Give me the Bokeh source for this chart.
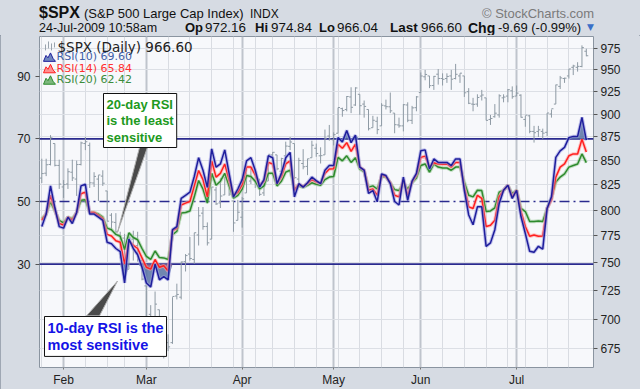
from bokeh.plotting import figure
from bokeh.models import (Range1d, LogScale, LogAxis, FixedTicker, Grid, Span, Label,
                          NumeralTickFormatter, ColumnDataSource, Div)
from bokeh.layouts import column
from bokeh.transform import dodge
from bokeh.embed import file_html
from bokeh.resources import INLINE

# ---------------- data (trading-day index 0 = 26-Jan-2009 ... 125 = 24-Jul-2009) -------------
day = list(range(126))
month_start = [5, 24, 46, 67, 87, 109]
month_names = ["Feb", "Mar", "Apr", "May", "Jun", "Jul"]
week_start = [0, 5, 10, 15, 19, 24, 29, 34, 39, 44, 49, 53, 58, 63, 68, 73, 78, 83, 87,
              92, 97, 102, 107, 111, 116, 121]
rsi_ticks = [30, 50, 70, 90]
price_ticks = [675, 700, 725, 750, 775, 800, 825, 850, 875, 900, 925, 950, 975]

open_ = [832, 837, 846, 868, 845, 823, 826, 838, 831, 846, 868, 866, 827, 831, 834, 819, 795, 788, 776, 773,
         744, 772, 766, 752, 729, 704, 699, 708, 684, 680, 680, 720, 719, 751, 758, 753, 776, 797, 784, 772,
         820, 807, 815, 829, 809, 790, 793, 817, 829, 839, 831, 817, 829, 856, 856, 839, 855, 865, 868, 831,
         847, 844, 853, 863, 855, 856, 876, 872, 879, 906, 905, 919, 910, 922, 911, 905, 885, 892, 887, 909,
         908, 901, 888, 887, 910, 893, 907, 924, 942, 943, 932, 945, 940, 940, 943, 940, 943, 943, 925, 911,
         911, 920, 918, 894, 897, 899, 918, 920, 926, 920, 921, 894, 898, 881, 881, 881, 880, 900, 911, 931,
         940, 943, 953, 953, 954, 972]
high = [852, 852, 877, 868, 851, 830, 842, 851, 850, 870, 875, 869, 838, 835, 840, 819, 797, 797, 779, 777,
        776, 780, 779, 754, 729, 712, 724, 708, 700, 687, 719, 731, 751, 758, 774, 778, 803, 803, 788, 823,
        823, 832, 833, 829, 809, 810, 813, 845, 842, 839, 831, 828, 856, 859, 856, 853, 870, 875, 868, 853,
        862, 852, 871, 868, 864, 883, 888, 880, 907, 907, 920, 930, 930, 922, 915, 905, 898, 897, 912, 916,
        924, 901, 896, 911, 913, 909, 920, 947, 950, 943, 943, 951, 946, 946, 950, 957, 946, 943, 929, 918,
        922, 927, 918, 899, 911, 922, 922, 928, 931, 932, 922, 898, 899, 887, 887, 884, 901, 905, 933, 943,
        941, 951, 956, 959, 979, 975]
low = [827, 834, 845, 844, 821, 812, 821, 829, 814, 845, 861, 822, 823, 809, 824, 789, 780, 777, 754, 743,
       744, 752, 751, 734, 700, 692, 698, 681, 667, 673, 679, 717, 717, 742, 752, 749, 766, 781, 766, 772,
       805, 802, 815, 814, 779, 790, 783, 817, 826, 822, 814, 814, 829, 845, 840, 837, 848, 861, 831, 826,
       841, 835, 853, 854, 847, 856, 871, 866, 879, 897, 903, 901, 909, 899, 896, 882, 885, 878, 887, 905,
       901, 879, 885, 881, 891, 889, 903, 924, 938, 929, 927, 933, 932, 935, 927, 939, 935, 919, 911, 903,
       908, 915, 893, 888, 896, 896, 913, 913, 917, 920, 896, 886, 879, 869, 875, 873, 876, 896, 911, 928,
       935, 940, 944, 948, 953, 966]
close = [836.6, 845.7, 874.1, 845.1, 825.9, 825.4, 838.5, 832.2, 845.9, 868.6, 869.9, 827.2, 833.7, 835.2,
         826.8, 789.2, 788.4, 778.9, 770.1, 743.3, 773.1, 764.9, 752.8, 735.1, 700.8, 696.3, 712.9, 682.6,
         683.4, 676.5, 719.6, 721.4, 750.7, 756.6, 753.9, 778.1, 794.4, 784.0, 768.5, 822.9, 806.1, 813.9,
         832.9, 815.9, 787.5, 797.9, 811.1, 834.4, 842.5, 835.5, 815.6, 825.2, 856.6, 858.7, 841.5, 852.1,
         865.3, 869.6, 832.4, 850.1, 843.6, 851.9, 866.2, 857.5, 855.2, 873.6, 872.8, 877.5, 907.2, 903.8,
         919.5, 907.4, 929.2, 909.2, 908.4, 883.9, 893.1, 882.9, 909.7, 908.1, 903.5, 888.3, 887.0, 910.3,
         893.1, 906.8, 919.1, 942.9, 944.7, 931.8, 942.5, 940.1, 939.1, 942.4, 939.2, 944.9, 946.2, 923.7,
         911.9, 910.7, 918.4, 921.2, 893.0, 895.1, 900.9, 920.3, 918.9, 927.2, 919.3, 923.3, 896.4, 898.7,
         881.0, 879.6, 882.7, 879.1, 901.1, 905.8, 932.7, 940.7, 940.4, 951.1, 954.6, 954.1, 976.3, 966.6]
rsi10 = [42, 46, 55, 48, 42, 41.5, 45, 43, 46.5, 55, 55.5, 46, 46, 45, 44, 37, 36.5, 35, 34, 24,
         38, 35, 33, 29, 24, 22.7, 30, 25, 26, 25, 41, 42, 51, 52, 53, 58, 64, 60, 54.5, 66.8,
         61, 62, 66.5, 59, 51.5, 54, 57, 63, 64, 60, 54.6, 57, 64.6, 64, 55.7, 59, 64, 65.7, 51.5, 55.7,
         54.6, 56, 57.8, 56.7, 55.7, 60, 61.5, 61.5, 70.4, 69, 72.7, 68.8, 71.2, 61, 60, 52.6, 53.5, 49.9,
         58.8, 58.3, 55.7, 50, 48.9, 57.8, 50.4, 56.5, 59, 66.2, 66.5, 60.4, 63.6, 62.5, 62.5, 62.5, 61.5,
         63.6, 63.6, 53.6, 45.7, 42.6, 48.3, 48.3, 35.7, 36.8, 41, 49.4, 53.6, 55.2, 51, 53.6, 45.2, 39.8,
         34.1, 33.8, 35.7, 34.8, 47.8, 51.5, 64.1, 66.2, 67.3, 70.4, 70.8, 70.8, 76.9, 69.6]
rsi14 = [44, 46, 52, 47.5, 43, 42.5, 45, 44, 46.5, 52.5, 53, 46.5, 46.5, 45.5, 44.5, 39.5, 39, 37.5, 37, 30,
         37.5, 36, 35, 32, 29, 28.4, 31.5, 29, 29.5, 27.8, 40.7, 41.5, 48.9, 49.5, 50, 55, 59.9, 57, 51.5, 63,
         57.8, 59, 62, 57, 51.9, 53, 55.5, 61, 61, 58.5, 55.2, 56.5, 62.5, 62, 55.7, 58, 62, 63, 53.6, 55.5,
         54.8, 55.8, 57, 56.3, 55.8, 59, 60.4, 60.5, 68.3, 67, 68.8, 66, 68.3, 61, 60, 53.6, 54, 52,
         58.5, 58, 56, 52, 51.5, 57, 52, 56.3, 58.5, 64.1, 64.5, 61, 62.4, 62, 61.9, 62, 61,
         62.5, 62.5, 54.5, 48.3, 47.8, 52, 51, 42, 42.4, 44, 51.5, 53.6, 55.2, 51.5, 53.6, 46.8, 42,
         38.9, 39.3, 38.9, 39, 47.8, 50.5, 57.8, 61, 62, 64.6, 65.2, 65.2, 69.9, 65.84]
rsi20 = [44.5, 46, 49.9, 47, 44, 43.2, 45, 44.5, 46.5, 50.4, 50.6, 46.5, 46.5, 46, 45, 41.5, 41, 39.5, 38.9, 34.7,
         40, 38.5, 37.8, 35, 32.5, 31.5, 34.2, 32.1, 32, 31.5, 39.4, 40.5, 46.3, 46.5, 47, 51.5, 56.7, 54, 49.5, 59,
         55.2, 56.5, 59, 55, 51.1, 52, 54, 58.3, 58, 56.5, 54, 55, 59, 59, 55, 56.5, 59.4, 60, 54, 55,
         54.5, 55.2, 56, 55.5, 55.2, 57, 57.8, 58, 64.1, 63, 64.6, 62.5, 64, 60.4, 59.5, 54.6, 55, 54,
         58, 57.8, 56, 53.8, 53.5, 56, 54, 56, 57.5, 61.5, 62, 59.4, 62, 61, 60.7, 60.7, 60,
         61, 61, 56.2, 52, 51.5, 53.6, 53.5, 46.8, 47, 48, 53, 53.6, 55.2, 52.5, 53.6, 47.8, 46.8,
         43.6, 43.6, 43.8, 43.6, 47.8, 51, 56.2, 57.8, 58.8, 61, 61.5, 62, 65.2, 62.42]

BG = "#D6DBE3"


# ---------------- header (HTML row above the chart) ----------------
def span(x, top, text, size, bold=False, color="#111111", font="Liberation Sans"):
    return ('<span style="position:absolute;left:%spx;top:%spx;font-family:\'%s\';font-size:%spx;'
            'line-height:1;white-space:nowrap;font-weight:%s;color:%s;">%s</span>'
            % (x, top, font, size, "bold" if bold else "normal", color, text))


parts = [
    span(39, 4.5, "$SPX", 16, True),
    span(84, 7, "(S&amp;P 500 Large Cap Index)", 13),
    span(250, 8, "INDX", 12),
    span(482, 7, "&copy; StockCharts.com", 13, color="#7A7A7A"),
    span(39, 21.5, "24-Jul-2009 10:58am", 12.5),
]
hdr = [(185, "Op", True, 13), (205, "972.16", False, 13.4), (255, "Hi", True, 13),
       (271, "974.84", False, 13.4), (319, "Lo", True, 13), (337, "966.04", False, 13.4),
       (390, "Last", True, 13.5), (421, "966.60", False, 13.4), (468, "Chg", True, 14),
       (498, "-9.69 (-0.99%)", False, 13)]
for x, t, b, s in hdr:
    parts.append(span(x, 21, t, s, b))
parts.append(span(587, 23, "&#9660;", 9, color="#3A6FC8", font="DejaVu Sans"))
header = Div(text='<div style="position:relative;width:640px;height:35px;">' + "".join(parts) + "</div>",
             width=640, height=35, margin=(0, 0, 0, 0),
             styles={"background-color": BG, "overflow": "hidden"})


# ---------------- chart ----------------
def to_data(x, y):
    """reference pixel -> (day index, RSI value)"""
    return (x - 41.3) / 4.356, 70 - (y - 139) / 3.15


def sx(x):
    return x - 39


def sy(y):
    return 369 - y


p = figure(width=640, height=354, output_backend="svg", toolbar_location=None,
           x_range=Range1d(-0.53, 126.65), y_range=Range1d(-3.0, 102.7),
           min_border_left=39, min_border_right=47, min_border_top=1, min_border_bottom=20)
p.extra_y_ranges = {"price": Range1d(659.6, 989.7)}
p.extra_y_scales = {"price": LogScale()}

p.background_fill_color = "#F7F8FB"
p.border_fill_color = BG
p.outline_line_color = "#8A94A0"
p.grid.grid_line_color = None

p.add_layout(Grid(dimension=0, ticker=FixedTicker(ticks=week_start), grid_line_color="#D9DCE2",
                  grid_line_width=1))
p.add_layout(Grid(dimension=0, ticker=FixedTicker(ticks=month_start), grid_line_color="#BFC4CC",
                  grid_line_width=2))
p.add_layout(Grid(dimension=1, ticker=FixedTicker(ticks=price_ticks), y_range_name="price",
                  grid_line_color="#DCDFE5", grid_line_width=1))

lab_font = "Liberation Sans"
p.yaxis.ticker = FixedTicker(ticks=rsi_ticks)
p.yaxis.minor_tick_line_color = None
p.yaxis.major_tick_in = 0
p.yaxis.major_tick_out = 4
p.yaxis.axis_line_color = None
p.yaxis.major_label_text_font = lab_font
p.yaxis.major_label_text_font_size = "12px"
p.yaxis.major_label_text_color = "#222222"
p.yaxis.major_tick_line_color = "#555555"

ra = LogAxis(y_range_name="price", ticker=FixedTicker(ticks=price_ticks),
             formatter=NumeralTickFormatter(format="0"))
ra.minor_tick_line_color = None
ra.major_tick_in = 0
ra.major_tick_out = 4
ra.axis_line_color = None
ra.major_label_text_font = lab_font
ra.major_label_text_font_size = "12px"
ra.major_label_text_color = "#222222"
ra.major_tick_line_color = "#555555"
ra.major_label_standoff = 3
p.add_layout(ra, "right")

p.xaxis.ticker = FixedTicker(ticks=month_start)
p.xaxis.major_label_overrides = {m: n for m, n in zip(month_start, month_names)}
p.xaxis.minor_tick_line_color = None
p.xaxis.major_tick_in = 0
p.xaxis.major_tick_out = 2
p.xaxis.axis_line_color = None
p.xaxis.major_tick_line_color = "#777777"
p.xaxis.major_label_standoff = 3
p.xaxis.major_label_text_font = lab_font
p.xaxis.major_label_text_font_size = "12px"
p.xaxis.major_label_text_color = "#222222"

# price bars (OHLC)
bar_col = "#8E9AA4"
cds = ColumnDataSource(dict(x=day, o=open_, h=high, l=low, c=close))
p.segment(x0="x", y0="l", x1="x", y1="h", source=cds, y_range_name="price", line_color=bar_col, line_width=1)
p.segment(x0=dodge("x", -0.45), y0="o", x1="x", y1="o", source=cds, y_range_name="price",
          line_color=bar_col, line_width=1)
p.segment(x0="x", y0="c", x1=dodge("x", 0.45), y1="c", source=cds, y_range_name="price",
          line_color=bar_col, line_width=1)

# reference lines
for lvl, dash in ((70, "solid"), (30, "solid"), (50, "10 4 2 4")):
    p.add_layout(Span(location=lvl, dimension="width", line_color="#2A2A8E", line_width=1.6,
                      line_dash=dash, level="underlay"))

# overbought / oversold fills
p.varea(x=day, y1=[min(v, 30) for v in rsi10], y2=30, fill_color="#4D6A9E", fill_alpha=0.8)
p.varea(x=day, y1=[min(v, 30) for v in rsi14], y2=30, fill_color="#A8587A", fill_alpha=0.6)
p.varea(x=day, y1=70, y2=[max(v, 70) for v in rsi10], fill_color="#4D6A9E", fill_alpha=0.8)

# RSI lines with soft halo
for ys, halo, col in ((rsi20, "#9CCB9C", "#2E8B2E"), (rsi14, "#FFA0A0", "#FF2020"),
                      (rsi10, "#9A9AE0", "#1E1E9C")):
    p.line(day, ys, line_color=halo, line_width=3.5, line_alpha=0.6)
    p.line(day, ys, line_color=col, line_width=1.5)


# ---------------- legend ----------------
def ll(x, y, text, size, color, font="DejaVu Sans"):
    p.add_layout(Label(x=sx(x), y=sy(y), x_units="screen", y_units="screen", text=text,
                       text_font=font, text_font_size=size, text_color=color,
                       text_align="left", text_baseline="top"))


ll(57, 40, "$SPX (Daily) 966.60", "13.5px", "#222222")
ll(56, 51.5, "RSI(10) 69.60", "11px", "#3F5FA8")
ll(56, 63, "RSI(14) 65.84", "11px", "#FF3030")
ll(56, 74.5, "RSI(20) 62.42", "11px", "#3C8C3C")

for x0, y0, y1 in ((45, 44, 50), (48, 41, 48), (51, 43, 50), (54, 42, 47)):
    a = to_data(x0, y0)
    b = to_data(x0, y1)
    p.segment(x0=[a[0]], y0=[a[1]], x1=[b[0]], y1=[b[1]], line_color="#9AA4AE", line_width=1)
for dy, fc, lc in ((0, "#6E86BE", "#1E1E9C"), (11.5, "#FF9090", "#FF2020"), (23, "#7DB87D", "#2E8B2E")):
    pts = [to_data(x, y + dy) for x, y in ((43, 61), (45.5, 55), (47.5, 57.5), (50, 52.5), (52.5, 58), (55, 61))]
    p.patch([q[0] for q in pts], [q[1] for q in pts], fill_color=fc, line_color=lc, line_width=1)

# ---------------- annotations ----------------
for pts in (((142, 136), (151, 136), (117, 233)), ((86, 317), (99, 317), (117, 282))):
    d = [to_data(x, y) for x, y in pts]
    p.patch([q[0] for q in d], [q[1] for q in d], fill_color="#4A4A4A", line_color="#B0B0B0",
            line_width=1)


def box(x, y, text, color, size, lh):
    common = dict(x_units="screen", y_units="screen", text=text, text_font="Liberation Sans",
                  text_font_size=size, text_font_style="bold", text_align="left", text_baseline="top",
                  text_line_height=lh, padding=3)
    p.add_layout(Label(x=sx(x) + 3, y=sy(y) - 3, text_alpha=0, background_fill_color="#8A8A8A",
                       **common))
    p.add_layout(Label(x=sx(x), y=sy(y), text_color=color, background_fill_color="white",
                       border_line_color="#111111", border_line_width=1, **common))


box(103, 95, "20-day RSI\nis the least\nsensitive", "#1E9A1E", "13px", 1.1)
box(44, 318, "10-day RSI is the\nmost sensitive", "#1414E6", "14.5px", 1.12)

layout = column(header, p, spacing=0, margin=(0, 0, 0, 0),
                styles={"background-color": BG, "outline": "1px solid #8C96A3", "outline-offset": "-1px"})
open("out.html", "w").write(file_html(layout, INLINE))
